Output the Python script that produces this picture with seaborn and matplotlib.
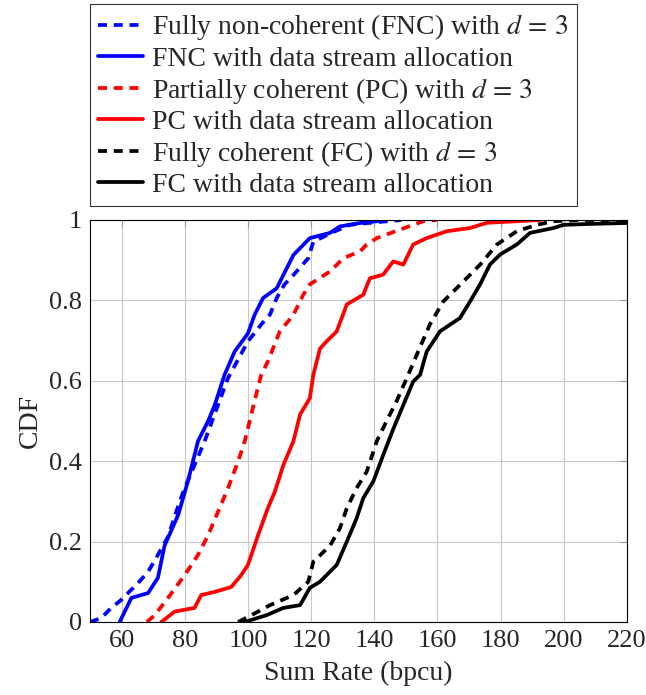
import pandas as pd
import matplotlib.pyplot as plt
import seaborn as sns

# valores (taxa soma, CDF)
fnc_d3_x = [50, 53.6, 56.7, 59.9, 65.2, 68.4, 71.5, 74.7, 78.4, 80.0, 86.3, 93.7, 100.0, 104.2, 107.0,
            109.1, 111.6, 114.4, 119.1, 120.7, 127.0, 132.3, 140.0, 148.5]
fnc_d3_y = [0.0, 0.01, 0.035, 0.055, 0.097, 0.125, 0.167, 0.212, 0.30, 0.333, 0.45, 0.607, 0.698, 0.74, 0.765,
            0.806, 0.84, 0.863, 0.905, 0.946, 0.97, 0.988, 0.994, 1.0]

fnc_da_x = [59.4, 63.1, 68.4, 71.5, 73.6, 77.9, 81.0, 84.2, 87.4, 89.5, 92.6, 95.8, 100.0, 102.1, 104.8,
            109.1, 111.2, 114.4, 119.6, 126.0, 129.1, 135.0, 140.8, 142.8]
fnc_da_y = [0.0, 0.06, 0.072, 0.11, 0.19, 0.266, 0.35, 0.45, 0.50, 0.54, 0.615, 0.673, 0.718, 0.764, 0.806,
            0.83, 0.863, 0.913, 0.955, 0.968, 0.984, 0.992, 0.997, 1.0]

pc_d3_x = [68.0, 70.5, 74.7, 80.0, 84.2, 87.4, 90.5, 93.7, 96.9, 99.0, 102.1, 104.2, 106.3, 110.1, 114.4,
           117.5, 119.6, 126.0, 130.2, 135.5, 137.6, 140.8, 148.1, 155.5, 159.7]
pc_d3_y = [0.0, 0.017, 0.06, 0.117, 0.167, 0.216, 0.274, 0.333, 0.40, 0.45, 0.55, 0.615, 0.648, 0.723, 0.764,
           0.814, 0.84, 0.872, 0.905, 0.922, 0.939, 0.955, 0.976, 0.997, 1.0]

pc_da_x = [72.6, 76.8, 83.1, 85.2, 89.5, 94.7, 97.9, 100.0, 103.2, 106.3, 108.5, 111.2, 114.4, 116.5, 119.6,
           120.7, 122.8, 124.9, 128.1, 131.3, 136.5, 138.6, 142.8, 146.0, 149.2, 152.3, 156.6, 162.9,
           170.3, 175.6, 192.5]
pc_da_y = [0.0, 0.026, 0.035, 0.067, 0.075, 0.087, 0.117, 0.142, 0.216, 0.283, 0.324, 0.39, 0.45, 0.516, 0.557,
           0.615, 0.68, 0.698, 0.723, 0.79, 0.814, 0.855, 0.864, 0.897, 0.889, 0.939, 0.955, 0.972,
           0.980, 0.993, 1.0]

fc_d3_x = [96.9, 101.1, 107.0, 114.4, 119.1, 120.7, 126.0, 129.1, 131.3, 134.4, 137.6, 140.8, 143.9, 147.1,
           150.3, 153.4, 157.6, 161.8, 168.2, 173.5, 178.8, 185.1, 191.4, 196.7, 205.0, 222.0]
fc_d3_y = [0.0, 0.017, 0.042, 0.067, 0.10, 0.15, 0.19, 0.233, 0.283, 0.333, 0.374, 0.45, 0.50, 0.55,
           0.607, 0.664, 0.74, 0.797, 0.847, 0.889, 0.939, 0.972, 0.988, 0.997, 1.0, 1.0]

fc_da_x = [99.0, 105.9, 111.2, 116.5, 119.6, 122.8, 128.1, 131.3, 134.4, 136.5, 139.7, 142.8, 146.0, 149.2,
           152.3, 154.5, 156.6, 160.8, 167.1, 170.3, 173.5, 176.6, 179.8, 185.1, 189.3, 196.7, 199.9,
           207.2, 222.0]
fc_da_y = [0.0, 0.017, 0.035, 0.042, 0.085, 0.10, 0.142, 0.20, 0.258, 0.308, 0.35, 0.415, 0.48, 0.54,
           0.598, 0.615, 0.673, 0.723, 0.756, 0.797, 0.84, 0.889, 0.914, 0.939, 0.968, 0.98, 0.988,
           0.99, 0.993]

rotulos = [r'Fully non-coherent (FNC) with $d\,=\,3$', 'FNC with data stream allocation',
           r'Partially coherent (PC) with $d\,=\,3$', 'PC with data stream allocation',
           r'Fully coherent (FC) with $d\,=\,3$', 'FC with data stream allocation']

sns.set_style('white')
plt.rcParams['font.family'] = ['Liberation Serif', 'DejaVu Serif']
plt.rcParams['mathtext.fontset'] = 'stix'

fig = plt.figure(figsize=(6.46, 6.95), dpi=100)
ax = fig.add_axes([90 / 646, 73 / 695, 537 / 646, 402 / 695])

series = [(fnc_d3_x, fnc_d3_y, 'blue', (0, (2.4, 1.8))),
          (fnc_da_x, fnc_da_y, 'blue', '-'),
          (pc_d3_x, pc_d3_y, 'red', (0, (2.4, 1.8))),
          (pc_da_x, pc_da_y, 'red', '-'),
          (fc_d3_x, fc_d3_y, 'black', (0, (2.4, 1.8))),
          (fc_da_x, fc_da_y, 'black', '-')]

for (xs, ys, cor, estilo), rotulo in zip(series, rotulos):
    sns.lineplot(x=xs, y=ys, color=cor, linestyle=estilo, linewidth=2.7,
                 sort=False, estimator=None, label=rotulo, ax=ax)

ax.set_xlim(50, 220)
ax.set_ylim(0, 1)
ax.set_xticks([60, 80, 100, 120, 140, 160, 180, 200, 220])
ax.set_yticks([0, 0.2, 0.4, 0.6, 0.8, 1])
ax.set_yticklabels(['0', '0.2', '0.4', '0.6', '0.8', '1'])
ax.grid(True, color='#c8c8c8', linewidth=0.8)
ax.tick_params(direction='in', length=5, color='#999999', labelsize=19,
               top=True, right=True, pad=6)
for s in ax.spines.values():
    s.set_color('black')
    s.set_linewidth(0.8)

ax.set_xlabel('Sum Rate (bpcu)', fontsize=20, labelpad=6)
ax.set_ylabel('CDF', fontsize=20, labelpad=4)

leg = ax.legend(loc='upper left', bbox_to_anchor=(90 / 646, 1 - 4 / 695),
                bbox_transform=fig.transFigure, fontsize=20, frameon=True,
                fancybox=False, edgecolor='black', handlelength=1.6,
                handletextpad=0.35, labelspacing=0.14, borderpad=0.3,
                borderaxespad=0)
leg.get_frame().set_linewidth(0.8)

fig.savefig('out.png', dpi=100)
